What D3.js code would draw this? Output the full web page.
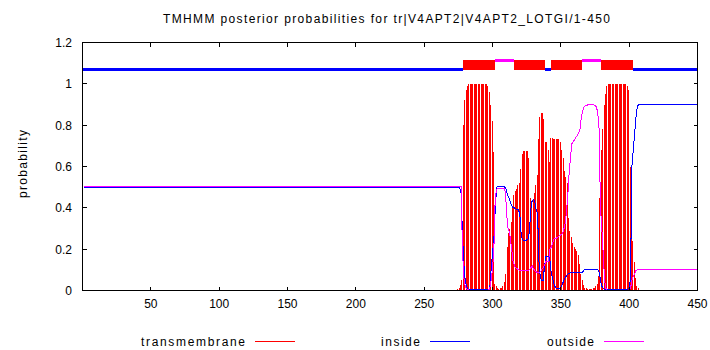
<!DOCTYPE html>
<html>
<head>
<meta charset="utf-8">
<script src="https://cdn.jsdelivr.net/npm/d3@7"></script>
<style>
  html, body { margin: 0; padding: 0; background: #fff; }
  svg { display: block; }
  text { font-family: "Liberation Sans", Arial, Helvetica, sans-serif; fill: #000; }
</style>
</head>
<body>
<svg id="chart" width="710" height="350"></svg>
<script>
// ---- data -------------------------------------------------------------
const chartTitle = "TMHMM posterior probabilities for tr|V4APT2|V4APT2_LOTGI/1-450";
const yAxisTitle = "probability";
const seqLength = 450;

const xTickValues = [50, 100, 150, 200, 250, 300, 350, 400, 450];
const yTickValues = [0, 0.2, 0.4, 0.6, 0.8, 1, 1.2];
const yTickLabels = ["0", "0.2", "0.4", "0.6", "0.8", "1", "1.2"];

const seriesNames = ["transmembrane", "inside", "outside"];

// predicted topology (residue ranges)
const topoStart = [1, 279, 302, 316, 339, 343, 366, 380, 403];
const topoEnd   = [278, 301, 315, 338, 342, 365, 379, 402, 450];
const topoType  = ["inside", "TMhelix", "outside", "TMhelix", "inside", "TMhelix", "outside", "TMhelix", "inside"];

// per-residue posterior probabilities from residue 272 to 410;
// before 272 and after 410 the profiles stay at their end values
const profileStart = 272;

const tmProb = [
  0, 0, 0, 0.005, 0.01, 0.025, 0.05, 0.8,                  // 272-279
  0.92, 0.97, 0.99, 1, 1, 1, 1, 1, 1, 1,                    // 280-289
  1, 1, 1, 1, 1, 1, 1, 0.99, 0.96, 0.9,                     // 290-299
  0.82, 0.67, 0.03, 0.02, 0.01, 0.005, 0.01, 0.01, 0.02, 0.04, // 300-309
  0.08, 0.21, 0.28, 0.3, 0.33, 0.4, 0.46, 0.48, 0.49, 0.51, // 310-319
  0.52, 0.59, 0.66, 0.674, 0.674, 0.674, 0.674, 0.64, 0.45, 0.43, // 320-329
  0.44, 0.47, 0.51, 0.56, 0.735, 0.84, 0.857, 0.857, 0.83, 0.72,  // 330-339
  0.72, 0.68, 0.62, 0.74, 0.74, 0.735, 0.735, 0.735, 0.735, 0.735, // 340-349
  0.72, 0.68, 0.64, 0.58, 0.55, 0.52, 0.35, 0.29, 0.26, 0.23, // 350-359
  0.21, 0.2, 0.19, 0.17, 0.13, 0.08, 0.05, 0.025, 0.01, 0.01, // 360-369
  0.005, 0.005, 0.005, 0.005, 0.01, 0.01, 0.02, 0.03, 0.07, 0.45, // 370-379
  0.68, 0.78, 0.9, 0.95, 0.99, 1, 1, 1, 1, 1,               // 380-389
  1, 1, 1, 1, 1, 1, 1, 1, 1, 0.99,                          // 390-399
  0.97, 0.6, 0.3, 0.24, 0.14, 0.06, 0.02, 0.01, 0, 0, 0     // 400-410
];

const insideProb = [
  0.497, 0.497, 0.497, 0.497, 0.497, 0.47, 0.28, 0.13,      // 272-279
  0.05, 0.02, 0.008, 0.006, 0.006, 0.006, 0.006, 0.006, 0.006, 0.006, // 280-289
  0.006, 0.006, 0.006, 0.006, 0.006, 0.006, 0.006, 0.006, 0.01, 0.1,  // 290-299
  0.18, 0.25, 0.39, 0.5, 0.505, 0.505, 0.505, 0.505, 0.505, 0.5,      // 300-309
  0.49, 0.46, 0.45, 0.43, 0.41, 0.4, 0.4, 0.395, 0.39, 0.39,          // 310-319
  0.37, 0.27, 0.245, 0.24, 0.24, 0.245, 0.25, 0.28, 0.39, 0.435,      // 320-329
  0.44, 0.43, 0.39, 0.37, 0.14, 0.06, 0.05, 0.05, 0.11, 0.165,        // 330-339
  0.165, 0.165, 0.15, 0.08, 0.06, 0.03, 0.015, 0.01, 0.008, 0.01,     // 340-349
  0.015, 0.03, 0.045, 0.06, 0.07, 0.078, 0.082, 0.085, 0.087, 0.088,  // 350-359
  0.089, 0.089, 0.089, 0.089, 0.089, 0.089, 0.089, 0.1, 0.1, 0.1,     // 360-369
  0.1, 0.1, 0.1, 0.1, 0.1, 0.1, 0.1, 0.1, 0.09, 0.05,                 // 370-379
  0.02, 0.01, 0.006, 0.006, 0.006, 0.006, 0.006, 0.006, 0.006, 0.006, // 380-389
  0.006, 0.006, 0.006, 0.006, 0.006, 0.006, 0.006, 0.006, 0.006, 0.006, // 390-399
  0.01, 0.06, 0.6, 0.68, 0.76, 0.84, 0.89, 0.9, 0.9, 0.9, 0.9         // 400-410
];

const outsideProb = [
  0.502, 0.502, 0.502, 0.502, 0.502, 0.502, 0.2, 0.06,      // 272-279
  0.02, 0.01, 0.003, 0.002, 0.002, 0.002, 0.002, 0.002, 0.002, 0.002, // 280-289
  0.002, 0.002, 0.002, 0.002, 0.002, 0.002, 0.002, 0.002, 0.01, 0.05, // 290-299
  0.1, 0.2, 0.45, 0.49, 0.495, 0.495, 0.495, 0.495, 0.495, 0.495,     // 300-309
  0.42, 0.31, 0.29, 0.26, 0.2, 0.145, 0.12, 0.11, 0.105, 0.1,         // 310-319
  0.095, 0.095, 0.095, 0.095, 0.095, 0.095, 0.095, 0.1, 0.11, 0.12,   // 320-329
  0.105, 0.095, 0.09, 0.085, 0.085, 0.09, 0.1, 0.11, 0.12, 0.14,      // 330-339
  0.14, 0.14, 0.2, 0.21, 0.23, 0.25, 0.25, 0.255, 0.26, 0.265,        // 340-349
  0.27, 0.275, 0.29, 0.32, 0.37, 0.45, 0.56, 0.64, 0.71, 0.72,        // 350-359
  0.73, 0.74, 0.75, 0.76, 0.78, 0.84, 0.87, 0.89, 0.895, 0.895,       // 360-369
  0.9, 0.9, 0.9, 0.9, 0.9, 0.895, 0.89, 0.86, 0.78, 0.4,              // 370-379
  0.3, 0.18, 0.05, 0.01, 0.002, 0.002, 0.002, 0.002, 0.002, 0.002,    // 380-389
  0.002, 0.002, 0.002, 0.002, 0.002, 0.002, 0.002, 0.002, 0.002, 0.002, // 390-399
  0.002, 0.01, 0.05, 0.07, 0.08, 0.097, 0.1, 0.1, 0.1, 0.1, 0.1       // 400-410
];

// ---- layout / styles ---------------------------------------------------
const colors = { transmembrane: "#ff0000", inside: "#0000ff", outside: "#ff00ff" };
const plot = { left: 82.5, right: 697.5, top: 42.5, bottom: 290.5 };
const tickLen = 4;

const svg = d3.select("#chart");

const x = d3.scaleLinear().domain([0, seqLength]).range([plot.left, plot.right]);
const y = d3.scaleLinear().domain([0, 1.2]).range([plot.bottom, plot.top]);

// per-residue records
const profile = tmProb.map((v, i) => ({
  res: profileStart + i,
  tm: v,
  inside: insideProb[i],
  outside: outsideProb[i]
}));

// ---- transmembrane impulses ---------------------------------------------
const gTm = svg.append("g").attr("shape-rendering", "crispEdges");
gTm.selectAll("line")
  .data(profile.filter(d => d.tm > 0))
  .join("line")
  .attr("x1", d => Math.floor(x(d.res) - 0.5) + 0.5)
  .attr("x2", d => Math.floor(x(d.res) - 0.5) + 0.5)
  .attr("y1", y(0))
  .attr("y2", d => y(d.tm))
  .attr("stroke", colors.transmembrane)
  .attr("stroke-width", 1);

// ---- inside / outside curves ------------------------------------------
function curvePoints(key, arr) {
  const pts = [{ res: 1, v: arr[0] }];
  profile.forEach(d => pts.push({ res: d.res, v: d[key] }));
  pts.push({ res: seqLength, v: arr[arr.length - 1] });
  return pts;
}
const line = d3.line().x(d => x(d.res)).y(d => y(d.v));

svg.append("path")
  .datum(curvePoints("inside", insideProb))
  .attr("d", line)
  .attr("fill", "none")
  .attr("stroke", colors.inside)
  .attr("stroke-width", 1)
  .attr("shape-rendering", "crispEdges");

svg.append("path")
  .datum(curvePoints("outside", outsideProb))
  .attr("d", line)
  .attr("fill", "none")
  .attr("stroke", colors.outside)
  .attr("stroke-width", 1)
  .attr("shape-rendering", "crispEdges");

// ---- topology bar ------------------------------------------------------
const topo = topoStart.map((s, i) => ({ start: s, end: topoEnd[i], type: topoType[i] }));
const gTopo = svg.append("g").attr("shape-rendering", "crispEdges");

gTopo.selectAll("rect.tm")
  .data(topo.filter(d => d.type === "TMhelix"))
  .join("rect")
  .attr("class", "tm")
  .attr("x", d => x(d.start - 0.5))
  .attr("width", d => x(d.end + 0.5) - x(d.start - 0.5))
  .attr("y", y(1.117))
  .attr("height", y(1.068) - y(1.117))
  .attr("fill", colors.transmembrane);

gTopo.selectAll("line.loop")
  .data(topo.filter(d => d.type !== "TMhelix"))
  .join("line")
  .attr("class", "loop")
  .attr("x1", d => x(Math.max(d.start - 0.5, 0.5)))
  .attr("x2", d => x(Math.min(d.end + 0.5, seqLength)))
  .attr("y1", d => d.type === "inside" ? y(1.071) : y(1.114))
  .attr("y2", d => d.type === "inside" ? y(1.071) : y(1.114))
  .attr("stroke", d => colors[d.type])
  .attr("stroke-width", 3);

// ---- frame & ticks -----------------------------------------------------
const gAxes = svg.append("g").attr("shape-rendering", "crispEdges").attr("stroke", "#000").attr("stroke-width", 1);
gAxes.append("rect")
  .attr("x", plot.left).attr("y", plot.top)
  .attr("width", plot.right - plot.left).attr("height", plot.bottom - plot.top)
  .attr("fill", "none");

yTickValues.forEach(v => {
  const yy = Math.round(y(v) - 0.5) + 0.5;
  gAxes.append("line").attr("x1", plot.left).attr("x2", plot.left + tickLen).attr("y1", yy).attr("y2", yy);
  gAxes.append("line").attr("x1", plot.right - tickLen).attr("x2", plot.right).attr("y1", yy).attr("y2", yy);
});
xTickValues.forEach(v => {
  const xx = Math.round(x(v) - 0.5) + 0.5;
  gAxes.append("line").attr("x1", xx).attr("x2", xx).attr("y1", plot.bottom).attr("y2", plot.bottom - tickLen);
  gAxes.append("line").attr("x1", xx).attr("x2", xx).attr("y1", plot.top).attr("y2", plot.top + tickLen);
});

// ---- labels ------------------------------------------------------------
const gLab = svg.append("g").attr("font-size", 12);

gLab.selectAll("text.ylab")
  .data(yTickValues)
  .join("text")
  .attr("class", "ylab")
  .attr("x", 72)
  .attr("y", v => y(v) + 4.5)
  .attr("text-anchor", "end")
  .text((v, i) => yTickLabels[i]);

gLab.selectAll("text.xlab")
  .data(xTickValues)
  .join("text")
  .attr("class", "xlab")
  .attr("x", v => x(v))
  .attr("y", 308)
  .attr("text-anchor", "middle")
  .text(v => String(v));

gLab.append("text")
  .attr("x", 386.5).attr("y", 22.5)
  .attr("text-anchor", "middle")
  .attr("textLength", 447).attr("lengthAdjust", "spacing")
  .text(chartTitle);

gLab.append("text")
  .attr("transform", "translate(27,164) rotate(-90)")
  .attr("text-anchor", "middle")
  .attr("textLength", 68).attr("lengthAdjust", "spacing")
  .text(yAxisTitle);

// ---- legend ------------------------------------------------------------
const legendTextRight = [245, 420, 594];
const legendTextWidth = [104, 39, 47];
seriesNames.forEach((name, i) => {
  const tx = legendTextRight[i];
  gLab.append("text")
    .attr("x", tx).attr("y", 345.5)
    .attr("text-anchor", "end")
    .attr("textLength", legendTextWidth[i]).attr("lengthAdjust", "spacing")
    .text(name);
  svg.append("line")
    .attr("x1", tx + 9.5).attr("x2", tx + 49.5)
    .attr("y1", 341.5).attr("y2", 341.5)
    .attr("stroke", colors[name])
    .attr("stroke-width", 1)
    .attr("shape-rendering", "crispEdges");
});
</script>
</body>
</html>
